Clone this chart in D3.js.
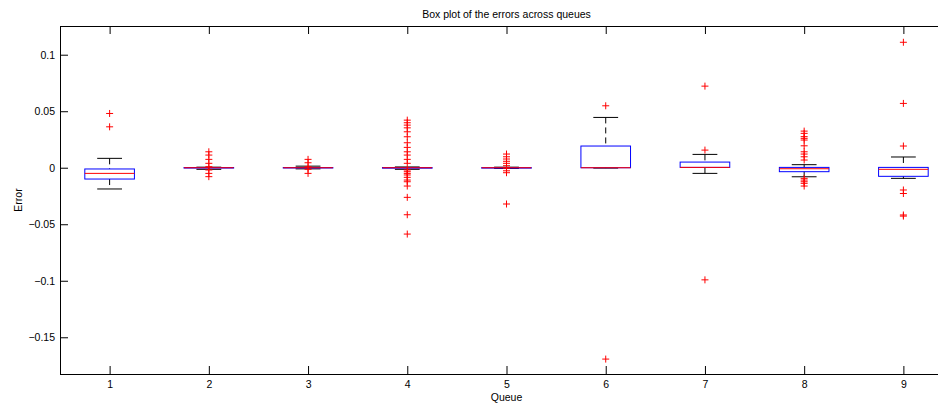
<!DOCTYPE html>
<html>
<head>
<meta charset="utf-8">
<script src="https://cdn.jsdelivr.net/npm/d3@7"></script>
<style>
  body { margin: 0; background: #fff; }
  svg { display: block; font-family: "Liberation Sans", Arial, sans-serif; }
</style>
</head>
<body>
<div id="chart"></div>
<script>
// values
var queues = [1, 2, 3, 4, 5, 6, 7, 8, 9];
var q1 = [-0.0100, -0.0003, -0.0002, -0.0004, -0.0002, 0.0000, 0.0003, -0.0035, -0.0076];
var medians = [-0.0050, 0.0000, 0.0000, 0.0000, 0.0000, 0.0000, 0.0003, -0.0009, -0.0014];
var q3 = [-0.0011, 0.0002, 0.0002, 0.0002, 0.0001, 0.0192, 0.0050, 0.0003, 0.0003];
var whiskerLo = [-0.0188, -0.0014, -0.0010, -0.0014, -0.0006, -0.0003, -0.0050, -0.0080, -0.0094];
var whiskerHi = [0.0083, 0.0005, 0.0014, 0.0007, 0.0005, 0.0445, 0.0118, 0.0027, 0.0095];
var outliers = [
    [0.048, 0.0362],
    [0.0141, 0.0112, 0.0074, 0.0039, 0.0009, -0.002, -0.005, -0.0079],
    [0.0074, 0.0044, 0.0009, -0.0014, -0.005],
    [0.0421, 0.0398, 0.0377, 0.0353, 0.0318, 0.0274, 0.0221, 0.018, 0.0141, 0.0112, 0.0074, 0.0039,
     -0.002, -0.0035, -0.005, -0.0064, -0.0085, -0.0109, -0.0124, -0.0162, -0.0262, -0.0416, -0.0587],
    [0.0121, 0.0097, 0.0077, 0.0057, 0.0039, 0.0018, -0.0005, -0.0027, -0.0044, -0.0321],
    [0.0548, -0.1693],
    [0.0722, 0.0156, -0.0992],
    [0.0324, 0.0304, 0.0275, 0.026, 0.0245, 0.0194, 0.0141, 0.0121, 0.0097, 0.0068,
     -0.0094, -0.0109, -0.0124, -0.0138, -0.0162],
    [0.111, 0.0569, 0.0192, -0.0197, -0.0228, -0.0418, -0.0428]
];
var yTicks = [-0.15, -0.1, -0.05, 0, 0.05, 0.1];
var yTickLabels = ["\u22120.15", "\u22120.1", "\u22120.05", "0", "0.05", "0.1"];

var svg = d3.select('#chart')
    .append('svg')
    .attr('width', 938)
    .attr('height', 403);

var plot = { left: 60, right: 953, top: 26, bottom: 374 };

var x = d3.scaleLinear()
    .domain([0.5, 9.5])
    .range([plot.left, plot.right]);
var y = d3.scaleLinear()
    .domain([-0.1825, 0.1254])
    .range([plot.bottom, plot.top]);

var fontSize = "10.5px";

// frame
svg.append("rect")
    .attr("x", plot.left + 0.5)
    .attr("y", plot.top + 0.5)
    .attr("width", plot.right - plot.left)
    .attr("height", plot.bottom - plot.top)
    .attr("fill", "none")
    .attr("stroke", "#000")
    .attr("stroke-width", 1);

// axes, ticks pointing inward like matlab
var xAxis = svg.append("g")
    .attr("transform", "translate(0," + plot.bottom + ")")
    .call(d3.axisBottom(x).tickValues(queues).tickSizeInner(-8).tickSizeOuter(0).tickPadding(7));
var xTop = svg.append("g")
    .attr("transform", "translate(0," + plot.top + ")")
    .call(d3.axisTop(x).tickValues(queues).tickFormat("").tickSizeInner(-8).tickSizeOuter(0));
var yAxis = svg.append("g")
    .attr("transform", "translate(" + plot.left + ",0)")
    .call(d3.axisLeft(y).tickValues(yTicks)
        .tickFormat(function (d, i) { return yTickLabels[i]; })
        .tickSizeInner(-8).tickSizeOuter(0).tickPadding(5));

[xAxis, xTop, yAxis].forEach(function (a) {
    a.select(".domain").remove();
    a.selectAll("text").attr("fill", "#000").style("font-size", fontSize);
    a.selectAll("line").attr("stroke", "#000");
});
xAxis.attr("font-family", null);
xTop.attr("font-family", null);
yAxis.attr("font-family", null);
yAxis.selectAll("text").attr("dy", "0.34em");

// boxes
var boxW = 0.25, capW = 0.125;
var g = svg.append("g");

queues.forEach(function (q, i) {
    var cx = x(q);
    var bw = x(q + boxW) - cx;
    var cw = x(q + capW) - cx;

    // whiskers
    g.append("line")
        .attr("x1", cx).attr("x2", cx)
        .attr("y1", y(whiskerHi[i])).attr("y2", y(q3[i]))
        .attr("stroke", "#000").attr("stroke-dasharray", "6,4");
    g.append("line")
        .attr("x1", cx).attr("x2", cx)
        .attr("y1", y(q1[i])).attr("y2", y(whiskerLo[i]))
        .attr("stroke", "#000").attr("stroke-dasharray", "6,4");
    // caps
    [whiskerHi[i], whiskerLo[i]].forEach(function (v) {
        g.append("line")
            .attr("x1", cx - cw).attr("x2", cx + cw)
            .attr("y1", y(v)).attr("y2", y(v))
            .attr("stroke", "#000");
    });
    // box
    g.append("rect")
        .attr("x", cx - bw)
        .attr("y", y(q3[i]))
        .attr("width", 2 * bw)
        .attr("height", Math.max(y(q1[i]) - y(q3[i]), 0.5))
        .attr("fill", "none")
        .attr("stroke", "#0000ff");
    // median
    g.append("line")
        .attr("x1", cx - bw).attr("x2", cx + bw)
        .attr("y1", y(medians[i])).attr("y2", y(medians[i]))
        .attr("stroke", "#ff0000");
    // outliers
    g.selectAll(null)
        .data(outliers[i])
        .enter().append("path")
        .attr("transform", function (d) { return "translate(" + cx + "," + y(d) + ")"; })
        .attr("d", "M-3.5,0H3.5M0,-3.5V3.5")
        .attr("stroke", "#ff0000")
        .attr("fill", "none");
});

// labels
svg.append("text")
    .attr("x", (plot.left + plot.right) / 2)
    .attr("y", 18.3)
    .attr("text-anchor", "middle")
    .style("font-size", fontSize)
    .text("Box plot of the errors across queues");

svg.append("text")
    .attr("x", (plot.left + plot.right) / 2)
    .attr("y", 400.7)
    .attr("text-anchor", "middle")
    .style("font-size", fontSize)
    .text("Queue");

svg.append("text")
    .attr("transform", "translate(21.5," + (plot.top + plot.bottom) / 2 + ") rotate(-90)")
    .attr("text-anchor", "middle")
    .style("font-size", fontSize)
    .text("Error");
</script>
</body>
</html>
